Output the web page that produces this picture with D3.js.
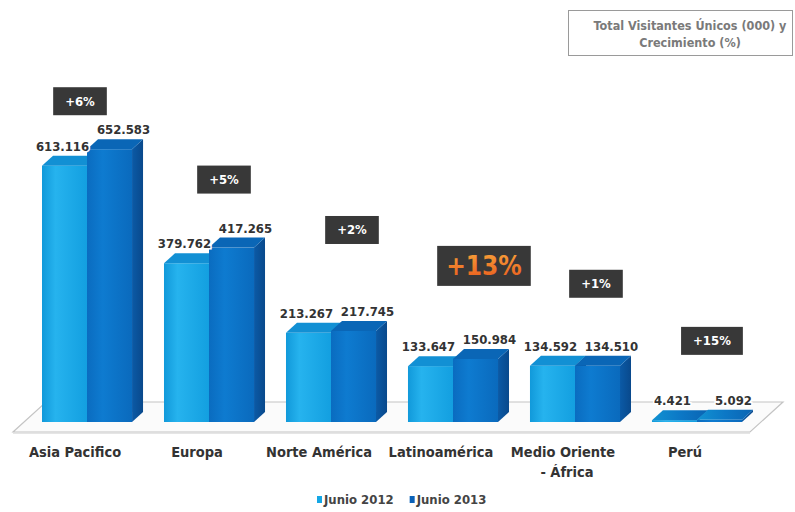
<!DOCTYPE html>
<html>
<head>
<meta charset="utf-8">
<script src="https://cdn.jsdelivr.net/npm/d3@7"></script>
<style>
  body { margin: 0; background: #fff; }
  svg text { font-family: "Liberation Sans Narrow", "Arial Narrow", "DejaVu Sans Condensed", sans-serif; font-weight: bold; }
</style>
</head>
<body>
<svg id="chart" width="795" height="512"></svg>
<script>
// Regions (label lines) and unique visitors in thousands
const regions = ["Asia Pacifico", "Europa", "Norte América", "Latinoamérica", "Medio Oriente", "Perú"];
const regionLines = [["Asia Pacifico"], ["Europa"], ["Norte América"], ["Latinoamérica"], ["Medio Oriente", "- África"], ["Perú"]];
const seriesNames = ["Junio 2012", "Junio 2013"];
const junio2012 = [613116, 379762, 213267, 133647, 134592, 4421];
const junio2013 = [652583, 417265, 217745, 150984, 134510, 5092];
const growth = ["+6%", "+5%", "+2%", "+13%", "+1%", "+15%"];
const highlightGrowth = "+13%";
const titleLines = ["Total Visitantes Únicos (000) y", "Crecimiento (%)"];

// Placement of the growth call-outs relative to each region's band / 2013 bar top
const calloutOffset = [
  { dx: 38, dy: -48 }, { dx: 60, dy: -68 }, { dx: 66, dy: -101 },
  { dx: 76, dy: -93 }, { dx: 66, dy: -82 }, { dx: 60, dy: -79 }
];

const svg = d3.select("#chart");
const W = 795, H = 512;
const depth = { x: 11, y: 10 };       // bar depth projection
const floorDepth = { x: 33, y: 30 };  // floor depth projection
const baseY = 422;

const x0 = d3.scaleBand().domain(regions).range([42, 742]).paddingInner(0.262).paddingOuter(0);
const x1 = d3.scaleBand().domain(seriesNames).range([0, x0.bandwidth()]);
const y = d3.scaleLinear().domain([0, 700000]).range([baseY, baseY - 700 * 0.418]);

const fmt = d3.formatLocale({ decimal: ",", thousands: ".", grouping: [3], currency: ["", ""] }).format(",");

const defs = svg.append("defs");
function hGrad(id, stops) {
  const g = defs.append("linearGradient").attr("id", id).attr("x1", "0%").attr("x2", "100%").attr("y1", "0%").attr("y2", "0%");
  stops.forEach(([o, c]) => g.append("stop").attr("offset", o).attr("stop-color", c));
}
hGrad("front0", [["0%", "#1199da"], ["30%", "#26b3ee"], ["100%", "#139fe0"]]);
hGrad("front1", [["0%", "#0a6cc0"], ["35%", "#0e7bd0"], ["100%", "#0a6abd"]]);
hGrad("side", [["0%", "#0b5aa6"], ["100%", "#09498c"]]);
hGrad("slab", [["0%", "#1192d2"], ["50%", "#0c78c6"], ["100%", "#0a64b3"]]);
const orange = defs.append("linearGradient").attr("id", "orangeTxt").attr("x1", "0").attr("x2", "0").attr("y1", "0").attr("y2", "1");
orange.append("stop").attr("offset", "0%").attr("stop-color", "#f7a33a");
orange.append("stop").attr("offset", "100%").attr("stop-color", "#e8591c");

const colors = {
  front: ["url(#front0)", "url(#front1)"],
  top: ["#1290d4", "#0a66b6"],
  legend: ["#15a7e5", "#0b62b8"]
};

// Floor plane
const fx0 = x0.range()[0] - 29, fx1 = x0.range()[1] + 8;
const floorFront = baseY + 10;
svg.append("path")
  .attr("d", `M${fx0},${floorFront} L${fx1},${floorFront} L${fx1 + floorDepth.x},${floorFront - floorDepth.y} L${fx0 + floorDepth.x},${floorFront - floorDepth.y} Z`)
  .attr("fill", "#fbfbfb").attr("stroke", "#c4c4c4").attr("stroke-width", 1.2);
svg.append("line").attr("x1", fx0).attr("x2", fx1).attr("y1", floorFront + 1).attr("y2", floorFront + 1)
  .attr("stroke", "#dcdcdc").attr("stroke-width", 1.5);

// Bars (front, top, side faces)
const rows = regions.map((r, i) => ({ region: r, vals: [junio2012[i], junio2013[i]], i }));
const groups = svg.append("g").selectAll("g").data(rows).join("g")
  .attr("transform", d => `translate(${x0(d.region)},0)`);

groups.each(function (d) {
  const g = d3.select(this);
  d.vals.forEach((v, s) => {
    const xl = x1(seriesNames[s]), xr = xl + x1.bandwidth();
    const yt = y(v);
    const flat = baseY - yt < 4;
    // side face
    g.append("path")
      .attr("d", `M${xr},${yt} L${xr + depth.x},${yt - depth.y} L${xr + depth.x},${baseY - depth.y} L${xr},${baseY} Z`)
      .attr("fill", "url(#side)");
    // front face
    g.append("rect").attr("x", xl).attr("y", yt).attr("width", x1.bandwidth()).attr("height", baseY - yt)
      .attr("fill", colors.front[s]);
    // top face
    g.append("path")
      .attr("d", `M${xl},${yt} L${xr},${yt} L${xr + depth.x},${yt - depth.y} L${xl + depth.x},${yt - depth.y} Z`)
      .attr("fill", flat ? "url(#slab)" : colors.top[s]);
  });
});

// Value labels
groups.each(function (d) {
  const g = d3.select(this);
  d.vals.forEach((v, s) => {
    const cx = x1(seriesNames[s]) + x1.bandwidth() / 2 + (s === 0 ? -2 : 14);
    g.append("text")
      .attr("x", cx).attr("y", y(v) - depth.y - 5)
      .attr("text-anchor", "middle").attr("font-size", 13).attr("fill", "#333")
      .attr("stroke", "#fff").attr("stroke-width", 3).attr("paint-order", "stroke")
      .text(fmt(v));
  });
});

// Category labels along the front of the floor
const catG = svg.append("g");
regions.forEach((r, i) => {
  const t = catG.append("text")
    .attr("x", x0(r) + x0.bandwidth() / 2 - 12).attr("y", 457)
    .attr("text-anchor", "middle").attr("font-size", 14.5).attr("fill", "#333");
  regionLines[i].forEach((line, k) => {
    t.append("tspan").attr("x", x0(r) + x0.bandwidth() / 2 - 12 + (k ? 4 : 0)).attr("dy", k ? 20 : 0).text(line);
  });
});

// Growth call-outs
growth.forEach((label, i) => {
  const big = label === highlightGrowth;
  const cx = x0(regions[i]) + calloutOffset[i].dx;
  const cy = y(junio2013[i]) + calloutOffset[i].dy;
  const g = svg.append("g");
  const rect = g.append("rect").attr("fill", "#383838");
  const t = g.append("text").attr("x", cx).attr("y", cy).attr("text-anchor", "middle")
    .attr("dominant-baseline", "central")
    .attr("font-size", big ? 26 : 13)
    .attr("fill", big ? "url(#orangeTxt)" : "#fff")
    .text(label);
  const w = t.node().getComputedTextLength() + (big ? 18 : 24);
  const h = big ? 40 : 28;
  rect.attr("x", cx - w / 2).attr("y", cy - h / 2).attr("width", w).attr("height", h);
});

// Title box, top right
const tb = svg.append("g");
tb.append("rect").attr("x", 568.5).attr("y", 10.5).attr("width", 224).attr("height", 45)
  .attr("fill", "#fff").attr("stroke", "#9a9a9a");
titleLines.forEach((line, k) => {
  tb.append("text").attr("x", 690).attr("y", 30 + k * 17).attr("text-anchor", "middle")
    .attr("font-size", 12.5).attr("fill", "#7a7a7a").text(line);
});

// Legend
const lg = svg.append("g").attr("transform", "translate(317,0)");
let lx = 0;
seriesNames.forEach((name, s) => {
  lg.append("rect").attr("x", lx).attr("y", 496).attr("width", 5).attr("height", 7).attr("fill", colors.legend[s]);
  const t = lg.append("text").attr("x", lx + 7).attr("y", 504).attr("font-size", 13).attr("fill", "#444").text(name);
  lx += 7 + t.node().getComputedTextLength() + 16;
});
</script>
</body>
</html>
